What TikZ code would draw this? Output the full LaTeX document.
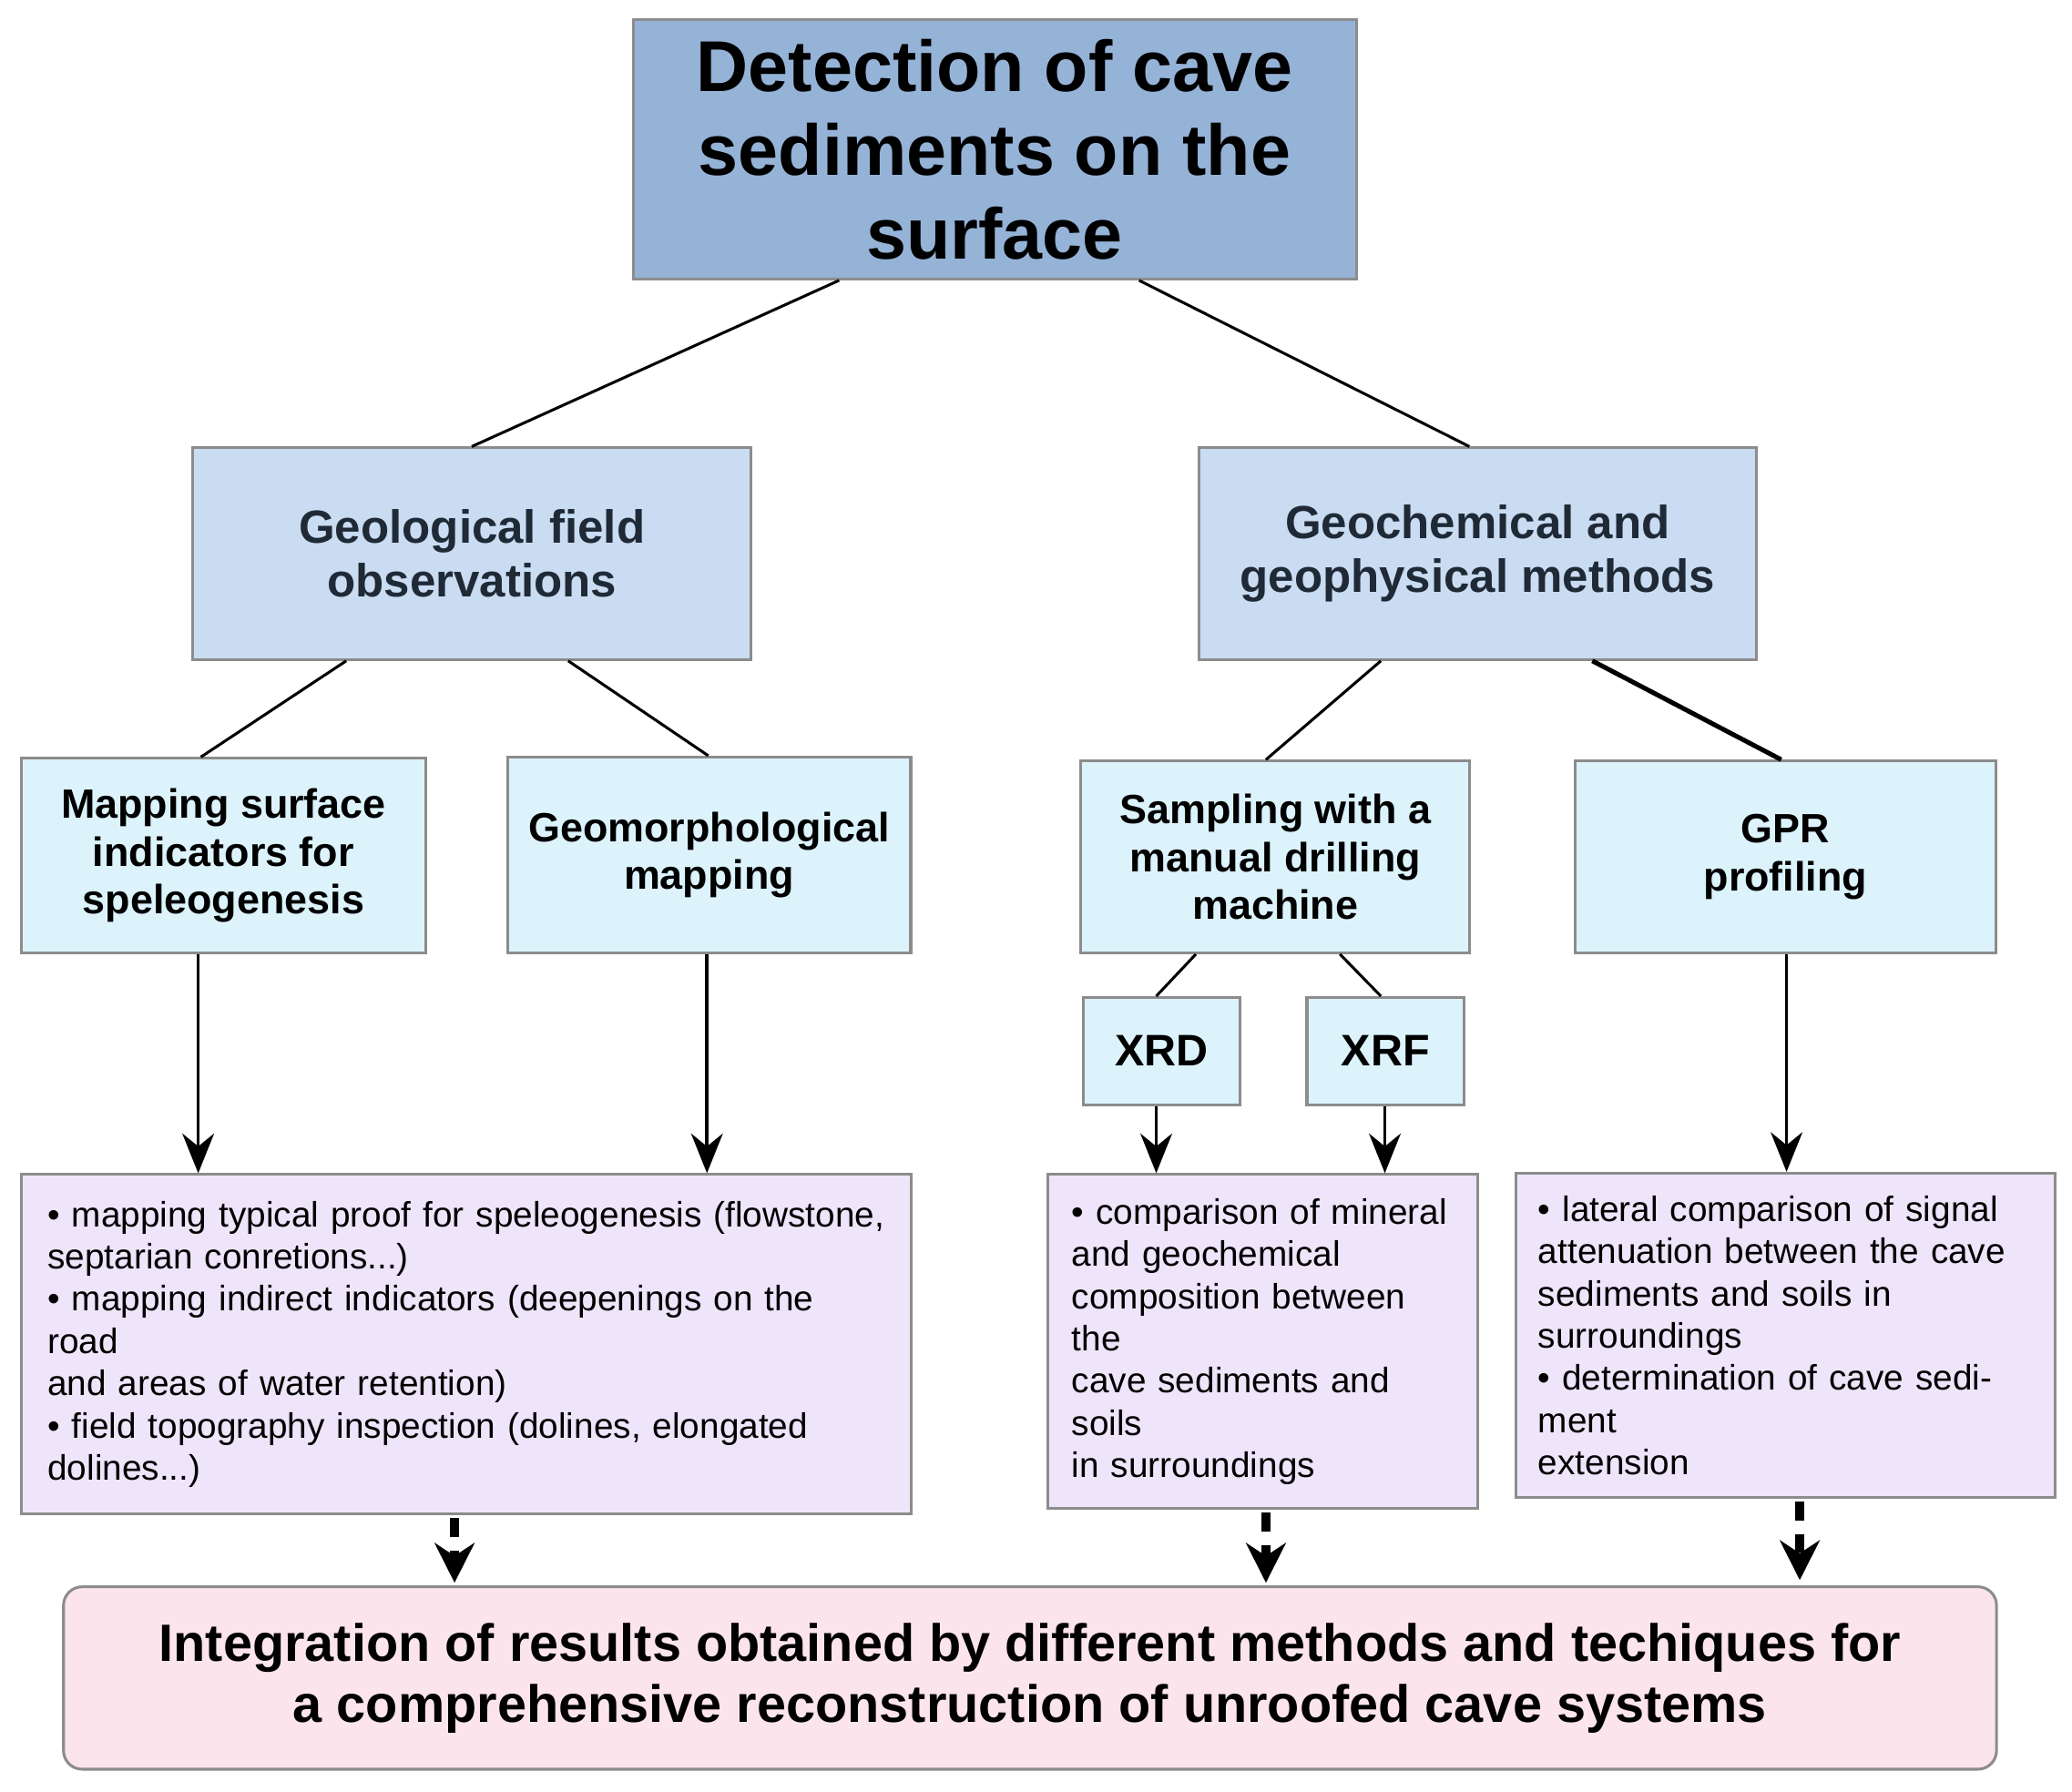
\documentclass[tikz,border=0pt]{standalone}
\usepackage{fontspec}
\setmainfont{Liberation Sans}
\usetikzlibrary{calc,arrows.meta}
\definecolor{c1}{HTML}{95B3D7}
\definecolor{c2}{HTML}{C9DCF1}
\definecolor{c3}{HTML}{DCF3FC}
\definecolor{c4}{HTML}{EEE5FA}
\definecolor{c5}{HTML}{FCE4EC}
\definecolor{bd}{HTML}{8C8C8C}
\definecolor{tx}{HTML}{1F2A36}
\begin{document}
\begin{tikzpicture}[x=0.01cm,y=-0.01cm,
 box/.style={draw=bd,line width=0.6pt,anchor=north west,inner sep=0pt,align=center,font=\bfseries,text=tx},
 list/.style={box,align=left,font=\fontsize{7.6}{9.1}\selectfont,text=black,inner sep=2mm},
 ln/.style={line width=0.6pt},
 ar/.style={line width=0.7pt,-{Stealth[length=3mm,width=2.4mm]}},
 da/.style={line width=2pt,dash pattern=on 4pt off 3pt,-{Stealth[length=3mm,width=3mm]}}]
\useasboundingbox (0,0) rectangle (1568,1356);
\node[box,fill=c1,minimum width=54.7mm,minimum height=19.6mm,font=\fontsize{15.5}{18}\selectfont\bfseries,text=black] (t) at (478,14) {Detection of cave\\sediments on the\\surface};
\node[box,fill=c2,minimum width=42.2mm,minimum height=16mm,font=\fontsize{10}{11.5}\selectfont\bfseries] (g) at (145,338) {Geological field\\observations};
\node[box,fill=c2,minimum width=42.2mm,minimum height=16mm,font=\fontsize{10}{11.5}\selectfont\bfseries] (h) at (906,338) {Geochemical and\\geophysical methods};
\node[box,fill=c3,minimum width=30.6mm,minimum height=14.7mm,font=\fontsize{8.8}{10.3}\selectfont\bfseries,text=black] (m) at (15,573) {Mapping surface\\indicators for\\speleogenesis};
\node[box,fill=c3,minimum width=30.5mm,minimum height=14.8mm,font=\fontsize{8.8}{10.3}\selectfont\bfseries,text=black] (gm) at (383,572) {Geomorphological\\mapping};
\node[box,fill=c3,minimum width=29.4mm,minimum height=14.5mm,font=\fontsize{8.8}{10.3}\selectfont\bfseries,text=black] (s) at (817,575) {Sampling with a\\manual drilling\\machine};
\node[box,fill=c3,minimum width=31.8mm,minimum height=14.5mm,font=\fontsize{8.8}{10.3}\selectfont\bfseries,text=black] (p) at (1191,575) {GPR\\profiling};
\node[box,fill=c3,minimum width=11.8mm,minimum height=8.1mm,font=\fontsize{9.5}{11}\selectfont\bfseries,text=black] (xd) at (819,754) {XRD};
\node[box,fill=c3,minimum width=11.9mm,minimum height=8.1mm,font=\fontsize{9.5}{11}\selectfont\bfseries,text=black] (xf) at (988,754) {XRF};
\node[list,fill=c4,minimum width=67.3mm,minimum height=20.6mm,text width=63.3mm,inner sep=2mm] (l1) at (15,888) {• mapping typical proof for speleogenesis (flowstone,\\septarian conretions...)\\• mapping indirect indicators (deepenings on the road\\and areas of water retention)\\• field topography inspection (dolines, elongated\\dolines...)};
\node[list,fill=c4,minimum width=32.5mm,minimum height=20.6mm,text width=28.9mm,inner sep=1.8mm] (l2) at (792,888) {• comparison of mineral\\and geochemical\\composition between the\\cave sediments and soils\\in surroundings};
\node[list,fill=c4,minimum width=40.8mm,minimum height=20.5mm,text width=37.4mm,inner sep=1.7mm] (l3) at (1146,887) {• lateral comparison of signal\\attenuation between the cave\\sediments and soils in\\surroundings\\• determination of cave sediment\\extension};
\node[box,fill=c5,rounded corners=4pt,minimum width=146.2mm,minimum height=13.8mm,font=\fontsize{11.3}{13.2}\selectfont\bfseries,text=black] (b) at (47,1200) {Integration of results obtained by different methods and techiques for\\a comprehensive reconstruction of unroofed cave systems};
\draw[ln] ($(t.south west)+(157,0)$) -- ($(g.north west)+(212,0)$);
\draw[ln] ($(t.south west)+(384,0)$) -- ($(h.north west)+(206,0)$);
\draw[ln] ($(g.south west)+(117,0)$) -- ($(m.north west)+(137,0)$);
\draw[ln] ($(g.south west)+(285,0)$) -- ($(gm.north west)+(153,0)$);
\draw[ln] ($(h.south west)+(139,0)$) -- ($(s.north west)+(141,0)$);
\draw[ln,line width=1pt] ($(h.south west)+(299,0)$) -- ($(p.north west)+(157,0)$);
\draw[ln] ($(s.south west)+(88,0)$) -- ($(xd.north west)+(56,0)$);
\draw[ln] ($(s.south west)+(197,0)$) -- ($(xf.north west)+(57,0)$);
\draw[ar] ($(m.south west)+(135,0)$) -- ($(l1.north west)+(135,0)$);
\draw[ar] ($(gm.south west)+(152,0)$) -- ($(l1.north west)+(520,0)$);
\draw[ar] ($(xd.south west)+(56,0)$) -- ($(l2.north west)+(83,0)$);
\draw[ar] ($(xf.south west)+(60,0)$) -- ($(l2.north west)+(256,0)$);
\draw[ar] ($(p.south west)+(161,0)$) -- ($(l3.north west)+(206,0)$);
\draw[da] ($(l1.south west)+(329,2)$) -- ($(b.north west)+(297,-2)$);
\draw[da] ($(l2.south west)+(166,2)$) -- ($(b.north west)+(911,-2)$);
\draw[da] ($(l3.south west)+(216,2)$) -- ($(b.north west)+(1315,-4)$);
\end{tikzpicture}
\end{document}
